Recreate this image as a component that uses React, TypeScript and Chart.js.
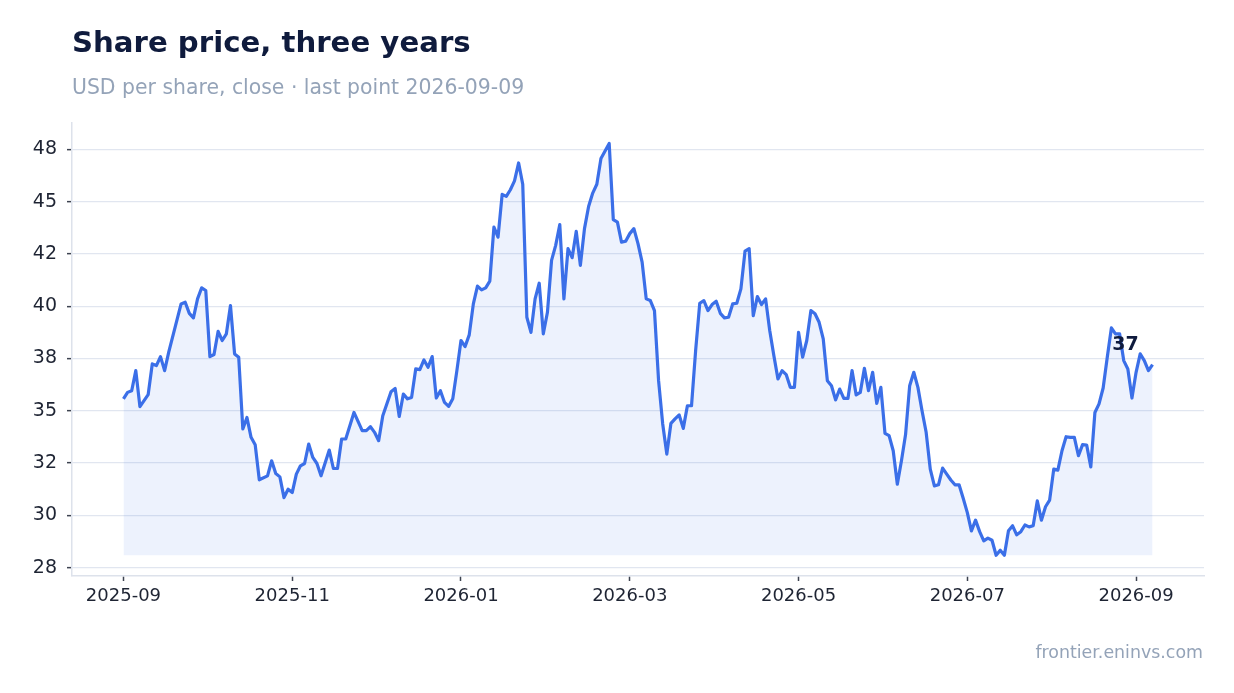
import { useEffect, useRef } from "react";
import { Chart, registerables } from "chart.js";

Chart.register(...registerables);

// trading-session number (0 = first close shown) and the close on that session
const sessions = [
  0, 1, 2, 3, 4, 6, 7, 8, 9, 10, 11, 14, 15, 16, 17, 18, 19, 20, 21, 22, 23, 24, 25, 26, 27, 28, 29, 30,
  31, 32, 33, 35, 36, 37, 38, 39, 40, 41, 42, 43, 44, 45, 46, 47, 48, 50, 51, 52, 53, 54, 56, 58, 59, 60,
  61, 62, 63, 65, 66, 67, 68, 69, 70, 71, 72, 73, 74, 75, 76, 77, 78, 79, 80, 81, 82, 83, 84, 85, 86, 87,
  88, 89, 90, 91, 92, 93, 94, 95, 96, 97, 98, 99, 100, 101, 102, 103, 104, 105, 106, 107, 108, 109, 110,
  111, 112, 113, 114, 115, 116, 117, 118, 119, 120, 121, 122, 123, 124, 125, 126, 127, 128, 129, 130, 131,
  132, 133, 134, 135, 136, 137, 138, 139, 140, 141, 142, 143, 144, 145, 146, 147, 148, 149, 150, 151, 152,
  153, 154, 155, 156, 157, 158, 159, 160, 161, 162, 163, 164, 165, 166, 167, 168, 169, 170, 171, 172, 173,
  174, 175, 176, 177, 178, 179, 180, 181, 182, 183, 184, 185, 186, 187, 188, 189, 190, 191, 192, 193, 194,
  195, 196, 197, 198, 199, 200, 201, 202, 203, 204, 205, 206, 207, 208, 209, 210, 211, 212, 213, 214, 215,
  216, 217, 218, 219, 220, 221, 222, 223, 224, 225, 226, 227, 228, 229, 230, 231, 232, 233, 234, 235, 236,
  237, 238, 239, 240, 241, 242, 243, 244, 245, 246, 247, 248, 249, 250,
];

const closes = [
  35.57, 35.88, 35.96, 36.92, 35.2, 35.77, 37.24, 37.16, 37.59, 36.92, 37.8, 40.11, 40.19, 39.66, 39.44,
  40.35, 40.88, 40.75, 37.59, 37.69, 38.8, 38.36, 38.68, 40.03, 37.72, 37.56, 34.13, 34.68, 33.73, 33.38,
  31.7, 31.89, 32.61, 32.0, 31.84, 30.85, 31.25, 31.09, 31.97, 32.37, 32.48, 33.41, 32.77, 32.48, 31.89,
  33.12, 32.24, 32.24, 33.65, 33.65, 34.92, 34.05, 34.05, 34.24, 33.97, 33.57, 34.76, 35.91, 36.07, 34.73,
  35.8, 35.57, 35.64, 37.0, 36.97, 37.43, 37.08, 37.59, 35.61, 35.96, 35.4, 35.21, 35.57, 36.92, 38.36,
  38.07, 38.63, 40.11, 40.96, 40.78, 40.88, 41.2, 43.78, 43.3, 45.35, 45.25, 45.57, 45.99, 46.85, 45.83,
  39.47, 38.75, 40.35, 41.1, 38.68, 39.71, 42.19, 42.91, 43.9, 40.35, 42.75, 42.32, 43.58, 41.95, 43.71,
  44.77, 45.41, 45.83, 47.06, 47.42, 47.78, 44.14, 44.02, 43.06, 43.11, 43.47, 43.71, 42.99, 42.11, 40.35,
  40.27, 39.79, 36.44, 34.37, 32.93, 34.4, 34.61, 34.8, 34.16, 35.24, 35.24, 37.88, 40.14, 40.27, 39.79,
  40.08, 40.24, 39.66, 39.44, 39.47, 40.11, 40.14, 40.83, 42.63, 42.75, 39.55, 40.46, 40.08, 40.35, 38.84,
  37.64, 36.52, 36.92, 36.73, 36.12, 36.12, 38.75, 37.56, 38.36, 39.79, 39.64, 39.23, 38.44, 36.44, 36.2,
  35.52, 36.04, 35.59, 35.59, 36.92, 35.76, 35.88, 37.03, 35.96, 36.84, 35.35, 36.12, 33.92, 33.81, 33.09,
  31.49, 32.61, 33.86, 36.2, 36.84, 36.12, 35.0, 33.97, 32.21, 31.41, 31.46, 32.26, 31.97, 31.69, 31.46,
  31.46, 30.82, 30.13, 29.26, 29.77, 29.22, 28.78, 28.91, 28.81, 28.09, 28.33, 28.09, 29.26, 29.5, 29.07,
  29.22, 29.54, 29.45, 29.5, 30.69, 29.77, 30.41, 30.73, 32.21, 32.16, 33.09, 33.76, 33.73, 33.73, 32.85,
  33.38, 33.36, 32.32, 34.92, 35.33, 36.09, 37.56, 38.96, 38.68, 38.68, 37.4, 37.0, 35.61, 36.84, 37.72,
  37.4, 36.92, 37.21,
];

const xTickSessions = [0, 41, 82, 123, 164, 205, 246];
const xTickLabels = ["2025-09", "2025-11", "2026-01", "2026-03", "2026-05", "2026-07", "2026-09"];
const yTickValues = [27.5, 30, 32.5, 35, 37.5, 40, 42.5, 45, 47.5];
const yTickLabels = ["28", "30", "32", "35", "38", "40", "42", "45", "48"];

const FONT = "'DejaVu Sans', sans-serif";
const lineColor = "#3b6fe8";
const gridColor = "#e1e6f0";
const spineColor = "#dde2eb";
const tickMarkColor = "#3d4350";
const labelColor = "#1e2433";
const mutedColor = "#94a3b8";

const lastPointLabel = {
  id: "lastPointLabel",
  afterDatasetsDraw(chart: any) {
    const meta = chart.getDatasetMeta(0);
    const pt = meta.data[meta.data.length - 1];
    if (!pt) return;
    const ctx = chart.ctx;
    ctx.save();
    ctx.font = `bold 19px ${FONT}`;
    ctx.fillStyle = "#0f1b3d";
    ctx.textAlign = "center";
    ctx.textBaseline = "middle";
    ctx.fillText(String(Math.round(closes[closes.length - 1])), pt.x - 27, pt.y - 19);
    ctx.restore();
  },
};

const SharePriceChart = () => {
  const canvasRef = useRef<HTMLCanvasElement | null>(null);
  const chartRef = useRef<any>(null);

  useEffect(() => {
    if (!canvasRef.current) return;
    if (chartRef.current) chartRef.current.destroy();

    const points = sessions.map((s, i) => ({ x: s, y: closes[i] }));
    const floor = Math.min(...closes);

    chartRef.current = new Chart(canvasRef.current, {
      type: "line",
      data: {
        datasets: [
          {
            data: points,
            borderColor: lineColor,
            backgroundColor: "rgba(59,111,232,0.09)",
            borderWidth: 3.2,
            borderJoinStyle: "round",
            pointRadius: 0,
            tension: 0,
            fill: { value: floor },
          },
        ],
      },
      options: {
        animation: false,
        responsive: true,
        maintainAspectRatio: false,
        layout: { padding: { top: 123, right: 30, bottom: 77, left: 0 } },
        plugins: { legend: { display: false }, tooltip: { enabled: false } },
        scales: {
          x: {
            type: "linear",
            min: -12.5,
            max: 262.5,
            afterBuildTicks: (scale: any) => {
              scale.ticks = xTickSessions.map((v) => ({ value: v }));
            },
            afterFit: (scale: any) => {
              scale.height = 40;
            },
            ticks: {
              autoSkip: false,
              maxRotation: 0,
              padding: 5,
              color: labelColor,
              font: { family: FONT, size: 18 },
              callback: (_v: any, i: number) => xTickLabels[i],
            },
            grid: {
              drawOnChartArea: false,
              drawTicks: true,
              tickLength: 5,
              tickWidth: 1.5,
              tickColor: tickMarkColor,
            },
            border: { color: spineColor, width: 1.5 },
          },
          y: {
            min: 27.1,
            max: 48.76,
            afterBuildTicks: (scale: any) => {
              scale.ticks = yTickValues.map((v) => ({ value: v }));
            },
            afterFit: (scale: any) => {
              scale.width = 72;
            },
            ticks: {
              padding: 10,
              color: labelColor,
              font: { family: FONT, size: 19 },
              callback: (_v: any, i: number) => yTickLabels[i],
            },
            grid: {
              color: gridColor,
              lineWidth: 1.3,
              drawTicks: true,
              tickLength: 5,
              tickWidth: 1.5,
              tickColor: tickMarkColor,
            },
            border: { color: spineColor, width: 1.5 },
          },
        },
      },
      plugins: [lastPointLabel],
    });

    return () => chartRef.current?.destroy();
  }, []);

  return (
    <div style={{ position: "absolute", left: 0, top: 0, width: 1234, height: 693, background: "#fff" }}>
      <canvas ref={canvasRef}></canvas>
      <div
        style={{
          position: "absolute",
          left: 72,
          top: 28.3,
          font: `bold 29.2px ${FONT}`,
          lineHeight: 1,
          color: "#0f1b3d",
          whiteSpace: "nowrap",
        }}
      >
        Share price, three years
      </div>
      <div
        style={{
          position: "absolute",
          left: 72,
          top: 76.7,
          font: `20.4px ${FONT}`,
          lineHeight: 1,
          color: mutedColor,
          whiteSpace: "nowrap",
        }}
      >
        USD per share, close · last point 2026-09-09
      </div>
      <div
        style={{
          position: "absolute",
          right: 31,
          top: 643.6,
          font: `17.4px ${FONT}`,
          lineHeight: 1,
          color: mutedColor,
          whiteSpace: "nowrap",
        }}
      >
        frontier.eninvs.com
      </div>
    </div>
  );
};

export default function App() {
  return <SharePriceChart />;
}
